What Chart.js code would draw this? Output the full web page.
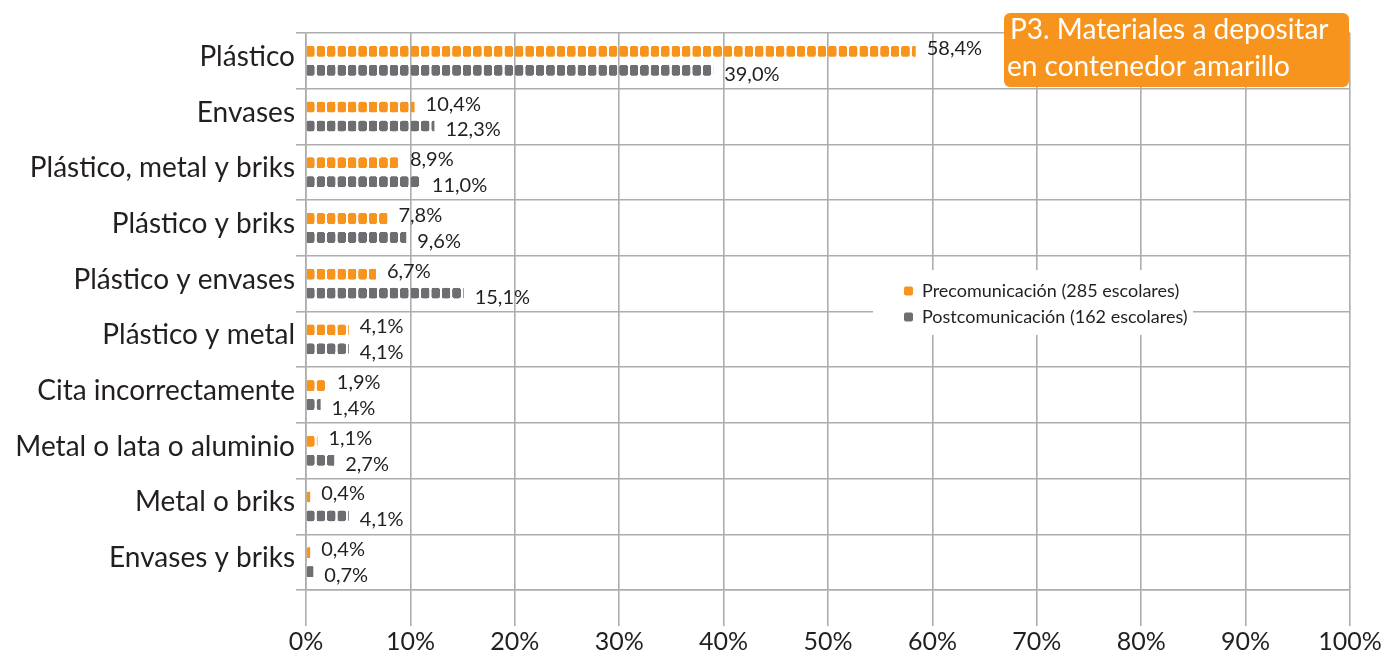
<!DOCTYPE html>
<html><head><meta charset="utf-8">
<script src="https://cdn.jsdelivr.net/npm/chart.js@4.4.1/dist/chart.umd.min.js"></script>
<style>html,body{margin:0;padding:0;background:#fff}#wrap{width:1387px;height:656px;position:relative}</style>
</head><body><div id="wrap"><canvas id="c" width="1387" height="656"></canvas></div>
<script>
const categories = ['Plástico','Envases','Plástico, metal y briks','Plástico y briks','Plástico y envases','Plástico y metal','Cita incorrectamente','Metal o lata o aluminio','Metal o briks','Envases y briks'];
const preValues  = [58.4, 10.4, 8.9, 7.8, 6.7, 4.1, 1.9, 1.1, 0.4, 0.4];
const postValues = [39.0, 12.3, 11.0, 9.6, 15.1, 4.1, 1.4, 2.7, 4.1, 0.7];
const seriesNames = ['Precomunicación (285 escolares)', 'Postcomunicación (162 escolares)'];
const xTickValues = [0, 10, 20, 30, 40, 50, 60, 70, 80, 90, 100];
const titleLines = ['P3. Materiales a depositar', 'en contenedor amarillo'];

const COLORS = ['#F7941E', '#6D6E71'];
const TEXT = '#231F20';
const GRID = '#ADADAD';
const FONT = 'Lato, "Open Sans", sans-serif';
const CAT_PCT = 0.68, BAR_PCT = 0.58;

function fmt(v){ return v.toFixed(1).replace('.', ',') + '%'; }

function dotPattern(chart, d, color) {
  const xs = chart.scales.x, ys = chart.scales.y;
  if (!xs || !ys || !chart.chartArea) return color;
  const x0 = xs.getPixelForValue(0);
  const px1 = xs.getPixelForValue(1) - x0;
  const yA = ys.getPixelForValue(0);
  const catH = ys.getPixelForValue(1) - yA;
  if (!(px1 > 0) || !(catH > 0)) return color;
  const S = 4;
  const tw = Math.round(px1 * S), th = Math.round(catH * S);
  const kx = tw / px1, ky = th / catH;
  const size = catH * CAT_PCT, chunk = size / 2, barH = chunk * BAR_PCT;
  const top = catH / 2 - size / 2 + chunk * d + chunk / 2 - barH / 2;
  const cv = document.createElement('canvas');
  cv.width = tw; cv.height = th;
  const g = cv.getContext('2d');
  g.fillStyle = color;
  g.beginPath();
  g.roundRect(0.2 * kx, top * ky, px1 * 0.8 * kx, barH * ky, 2.2 * kx);
  g.fill();
  const p = chart.ctx.createPattern(cv, 'repeat');
  p.setTransform(new DOMMatrix([1 / kx, 0, 0, 1 / ky, x0, yA - catH / 2]));
  return p;
}

const helperPlugin = {
  id: 'helper',
  beforeLayout(chart) {
    const L = chart.legend;
    if (L && !L._patched) {
      L._patched = true;
      L._layers = function () {
        return [{ z: 1, draw: (ca) => {
          const ctx = chart.ctx;
          ctx.save();
          ctx.fillStyle = '#ffffff';
          ctx.fillRect(873, 270, 320, 65);
          ctx.restore();
          L.draw(ca);
        } }];
      };
    }
  },
  afterLayout(chart) {
    const L = chart.legend;
    if (!L) return;
    const w = L.width;
    L.left = 896; L.top = 274; L.right = L.left + w + 20; L.bottom = L.top + 70; L.height = 70;
  },
  afterDatasetsDraw(chart) {
    const ctx = chart.ctx;
    ctx.save();
    ctx.font = '20px ' + FONT;
    ctx.fillStyle = TEXT;
    ctx.textAlign = 'left';
    ctx.textBaseline = 'middle';
    chart.data.datasets.forEach((ds, d) => {
      const meta = chart.getDatasetMeta(d);
      meta.data.forEach((el, i) => {
        ctx.fillText(fmt(ds.data[i]), el.x + 11, el.y + (d === 0 ? -3 : 4));
      });
    });
    ctx.restore();
  },
  afterDraw(chart) {
    const ctx = chart.ctx;
    ctx.save();
    ctx.fillStyle = COLORS[0];
    ctx.beginPath();
    ctx.roundRect(1004, 13, 345, 74, 6);
    ctx.fill();
    ctx.fillStyle = '#ffffff';
    ctx.font = '28px ' + FONT;
    ctx.textAlign = 'left';
    ctx.textBaseline = 'middle';
    ctx.fillText(titleLines[0], 1010, 30);
    ctx.fillText(titleLines[1], 1007, 67);
    ctx.restore();
  }
};

new Chart(document.getElementById('c'), {
  type: 'bar',
  data: {
    labels: categories,
    datasets: [
      { label: seriesNames[0], data: preValues, backgroundColor: (c) => dotPattern(c.chart, 0, COLORS[0]), borderWidth: 0, categoryPercentage: CAT_PCT, barPercentage: BAR_PCT },
      { label: seriesNames[1], data: postValues, backgroundColor: (c) => dotPattern(c.chart, 1, COLORS[1]), borderWidth: 0, categoryPercentage: CAT_PCT, barPercentage: BAR_PCT }
    ]
  },
  options: {
    indexAxis: 'y',
    responsive: false,
    animation: false,
    events: [],
    layout: { padding: { top: 33, right: 37, left: 0, bottom: 0 }, autoPadding: false },
    scales: {
      x: {
        type: 'linear', min: 0, max: 100,
        afterBuildTicks(scale) { scale.ticks = xTickValues.map(v => ({ value: v })); },
        afterFit(scale) { scale.height = 66; },
        grid: { color: GRID, lineWidth: 1.6, tickLength: 36, drawTicks: true },
        border: { color: GRID, width: 1.6 },
        ticks: { callback: (v) => v + '%', color: TEXT, font: { family: FONT, size: 25 }, padding: 1, maxRotation: 0 }
      },
      y: {
        type: 'category',
        afterFit(scale) { scale.width = 306; },
        grid: { color: GRID, lineWidth: 1.6, tickLength: 10, offset: true },
        border: { color: GRID, width: 1.6 },
        ticks: { color: TEXT, font: { family: FONT, size: 28 }, padding: 1, labelOffset: -4 }
      }
    },
    plugins: {
      title: { display: false },
      tooltip: { enabled: false },
      legend: {
        position: 'chartArea', align: 'start',
        labels: {
          boxWidth: 9, boxHeight: 9, useBorderRadius: true, borderRadius: 2, padding: 8,
          color: TEXT, font: { family: FONT, size: 18 },
          generateLabels: () => seriesNames.map((n, i) => ({ text: n, fillStyle: COLORS[i], strokeStyle: COLORS[i], lineWidth: 0, hidden: false, datasetIndex: i, borderRadius: 2, fontColor: TEXT }))
        }
      }
    }
  },
  plugins: [helperPlugin]
});
</script>
</body></html>
